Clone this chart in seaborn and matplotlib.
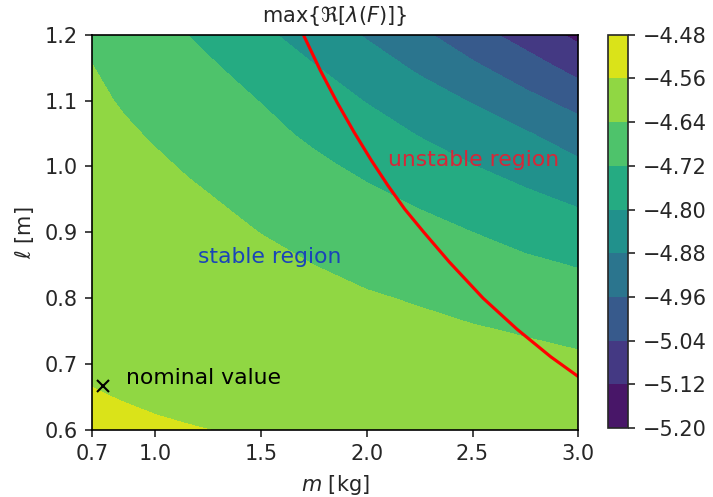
import numpy as np
import matplotlib
matplotlib.use("Agg")
import matplotlib.pyplot as plt
import seaborn as sns

# grid
m_vals = [0.7, 0.85, 1.0, 1.15, 1.3, 1.5, 1.75, 2.0, 2.25, 2.5, 2.75, 3.0]
l_vals = [0.6, 0.65, 0.7, 0.75, 0.8, 0.85, 0.9, 0.95, 1.0, 1.05, 1.1, 1.15, 1.2]

# max real eigenvalue, one row per l value (columns follow m_vals)
re_l060 = [-4.5495, -4.5525, -4.5555, -4.5581, -4.5607, -4.5630, -4.5650, -4.5670, -4.5690, -4.5720, -4.5750, -4.5780]
re_l065 = [-4.5576, -4.5614, -4.5652, -4.5686, -4.5721, -4.5759, -4.5800, -4.5838, -4.5877, -4.5927, -4.5977, -4.6028]
re_l070 = [-4.5656, -4.5704, -4.5749, -4.5791, -4.5835, -4.5888, -4.5950, -4.6006, -4.6064, -4.6135, -4.6205, -4.6276]
re_l075 = [-4.5737, -4.5794, -4.5846, -4.5896, -4.5949, -4.6018, -4.6100, -4.6175, -4.6251, -4.6342, -4.6444, -4.6565]
re_l080 = [-4.5817, -4.5883, -4.5943, -4.6001, -4.6063, -4.6147, -4.6250, -4.6343, -4.6454, -4.6612, -4.6756, -4.6896]
re_l085 = [-4.5898, -4.5973, -4.6040, -4.6106, -4.6177, -4.6276, -4.6400, -4.6562, -4.6724, -4.6906, -4.7069, -4.7234]
re_l090 = [-4.5978, -4.6063, -4.6137, -4.6211, -4.6291, -4.6408, -4.6622, -4.6808, -4.6995, -4.7200, -4.7437, -4.7664]
re_l095 = [-4.6059, -4.6153, -4.6233, -4.6316, -4.6408, -4.6609, -4.6844, -4.7053, -4.7290, -4.7589, -4.7845, -4.8116]
re_l100 = [-4.6139, -4.6242, -4.6330, -4.6438, -4.6601, -4.6810, -4.7067, -4.7338, -4.7664, -4.7977, -4.8282, -4.8642]
re_l105 = [-4.6220, -4.6332, -4.6452, -4.6627, -4.6794, -4.7011, -4.7326, -4.7683, -4.8042, -4.8404, -4.8736, -4.9218]
re_l110 = [-4.6300, -4.6447, -4.6639, -4.6817, -4.6987, -4.7219, -4.7641, -4.8033, -4.8463, -4.8848, -4.9373, -4.9888]
re_l115 = [-4.6381, -4.6641, -4.6826, -4.7006, -4.7181, -4.7531, -4.7956, -4.8441, -4.8907, -4.9454, -5.0026, -5.0657]
re_l120 = [-4.6514, -4.6835, -4.7013, -4.7196, -4.7486, -4.7844, -4.8355, -4.8866, -4.9440, -5.0098, -5.0723, -5.1380]

levels = [-5.20, -5.12, -5.04, -4.96, -4.88, -4.80, -4.72, -4.64, -4.56, -4.48]

# stability boundary (red curve)
border_m = [1.70, 1.78, 1.86, 1.94, 2.02, 2.10, 2.18, 2.27, 2.39, 2.55, 2.71, 2.87, 3.00]
border_l = [1.200, 1.146, 1.097, 1.052, 1.010, 0.971, 0.935, 0.900, 0.855, 0.800, 0.753, 0.711, 0.681]

nominal_m = [0.75]
nominal_l = [0.667]


def main():
    sns.set_style("ticks")
    plt.rcParams["font.family"] = ["DejaVu Sans"]
    plt.rcParams["font.size"] = 10
    plt.rcParams["xtick.direction"] = "out"
    plt.rcParams["ytick.direction"] = "out"

    Z = np.array([re_l060, re_l065, re_l070, re_l075, re_l080, re_l085, re_l090,
                  re_l095, re_l100, re_l105, re_l110, re_l115, re_l120])
    M, L = np.meshgrid(m_vals, l_vals)

    fig = plt.figure(figsize=(713 / 150, 497 / 150), dpi=150)
    ax = fig.add_axes([0.129, 0.135, 0.682, 0.795])
    cax = fig.add_axes([0.853, 0.139, 0.028, 0.791])

    cs = ax.contourf(M, L, Z, levels=levels, cmap="viridis")
    sns.lineplot(x=border_m, y=border_l, color="red", lw=1.5, ax=ax, sort=False)
    ax.plot(nominal_m, nominal_l, "x", color="black", ms=6, mew=1.0)

    ax.text(0.86, 0.679, "nominal value", color="black", va="center", fontsize=10.5)
    ax.text(1.20, 0.863, "stable region", color="#1a45b8", va="center", fontsize=10.5)
    ax.text(2.10, 1.01, "unstable region", color="#d62738", va="center", fontsize=10.5)

    ax.set_xlim(0.7, 3.0)
    ax.set_ylim(0.6, 1.2)
    ax.set_xticks([0.7, 1.0, 1.5, 2.0, 2.5, 3.0])
    ax.set_xticklabels(["0.7", "1.0", "1.5", "2.0", "2.5", "3.0"])
    ax.set_yticks([0.6, 0.7, 0.8, 0.9, 1.0, 1.1, 1.2])
    ax.set_xlabel(r"$m$ [kg]")
    ax.set_ylabel(r"$\ell$ [m]")
    ax.set_title(r"$\max\{\Re[\lambda(F)]\}$", fontsize=10)
    for s in ax.spines.values():
        s.set_color("black")

    cb = fig.colorbar(cs, cax=cax)
    cb.set_ticks(levels)
    cb.set_ticklabels([f"{v:.2f}".replace("-", "\u2212") for v in levels])

    fig.savefig("out.png", dpi=150)
    plt.close(fig)


if __name__ == "__main__":
    main()
